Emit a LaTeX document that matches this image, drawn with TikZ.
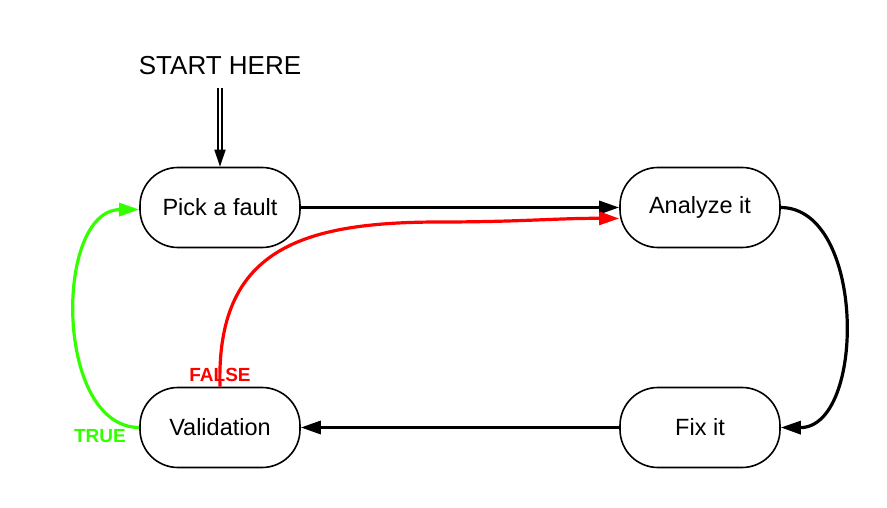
\documentclass[tikz,border=0pt]{standalone}
\usepackage{fontspec}
\setmainfont{Liberation Sans}
\usetikzlibrary{arrows.meta, positioning, calc}

\definecolor{truegreen}{RGB}{51,255,0}
\definecolor{falsered}{RGB}{255,0,0}

\begin{document}
\begin{tikzpicture}[
    x=1pt, y=-1pt,
    state/.style={draw, line width=1.6pt, fill=white, rectangle, rounded corners=38pt, minimum width=160pt, minimum height=80pt, inner sep=0pt, align=center, font=\fontsize{23.5}{28}\selectfont},
    flow/.style={line width=3.2pt, -{Triangle[length=20pt,width=13pt]}},
    branch/.style={font=\fontsize{19}{22}\selectfont\bfseries}
]
\useasboundingbox (0,0) rectangle (887,508);

% --- 1. STATES ---
\node [state] (pick) at (220,207.5) {\raisebox{2pt}{Pick a fault}};
\node [state] (analyze) at (700,207.5) {\raisebox{2pt}{Analyze it}};
\node [state] (valid) at (220,427.5) {\raisebox{2pt}{Validation}};
\node [state] (fix) at (700,427.5) {\raisebox{2pt}{Fix it}};

% Entry point
\node [font=\fontsize{26}{30}\selectfont] (start) at (220,66) {START HERE};
\draw[double, line width=1.6pt, double distance=2.6pt, shorten <=9pt, -{Triangle[length=17pt,width=11pt]}] (start.south) -- (pick.north);

% --- 2. MAIN LOOP ---
\draw[flow] (pick.east) -- (analyze.west);
\draw[flow] (analyze.east) .. controls (866,208) and (866,428) .. (fix.east);
\draw[flow] (fix.west) -- (valid.west -| valid.east);

% --- 3. VALIDATION RESULT ---
\draw[flow, truegreen] (valid.west) .. controls (54,427) and (54,210) .. ($(pick.west)+(0,2)$);
\node [branch, text=truegreen] (true) at (100,436) {TRUE};

\draw[flow, falsered] (valid.north) .. controls (216,250) and (300,222) .. (440,222) .. controls (520,222) and (560,218) .. ($(analyze.west)+(0,11)$);
\node [branch, text=falsered] (false) at (220,375) {FALSE};

\end{tikzpicture}
\end{document}
